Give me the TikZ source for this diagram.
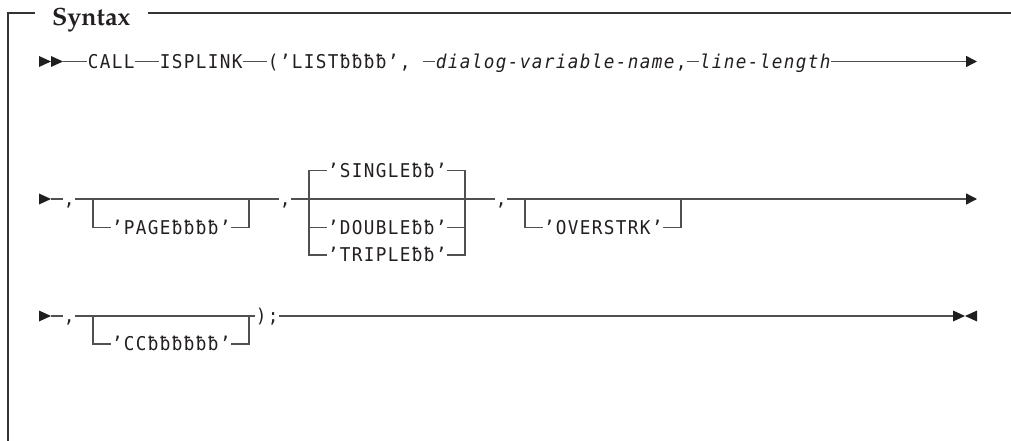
\documentclass[tikz,border=0pt]{standalone}
\usepackage{fontspec}
\usetikzlibrary{arrows.meta}
\newfontfamily\monof[FakeStretch=0.93]{DejaVu Sans Mono}
\newfontfamily\titlef{TeX Gyre Pagella}
\definecolor{ln}{HTML}{505050}
\definecolor{tx}{HTML}{231F20}
\makeatletter
\newcommand\cells[1]{\@tfor\cellch:=#1\do{\makebox[12pt][c]{\cellch}}}
\makeatother
\begin{document}
\begin{tikzpicture}[x=1pt,y=-1pt,
  tok/.style={inner sep=0pt, anchor=west, text height=13.8pt, text depth=0pt,
    font={\monof\fontsize{19pt}{19pt}\selectfont}, text=tx},
  itok/.style={tok, font={\monof\itshape\fontsize{19pt}{19pt}\selectfont}},
  rail/.style={draw=ln, line width=1.3pt},
  endarrow/.style={rail, -{Triangle[length=11pt,width=11pt,color=black!88]}},
  tri/.style={fill=black!88},
  frame/.style={draw=black!80, line width=1.3pt},
]
\useasboundingbox (0,0) rectangle (1011,441);
\def\ya{61.5}
\def\yb{199}
\def\ysg{170.5}
\def\ydb{227.5}
\def\ytr{255}
\def\yc{316}
\def\ycc{344}

% frame
\node[anchor=base west, inner sep=0pt, font={\titlef\bfseries\fontsize{25pt}{25pt}\selectfont}, text=tx] (title) at (52,26) {Syntax};
\draw[frame] (35,13) -- (8,13) -- (8,441);
\draw[frame] (148,13) -- (1011,13);

% ---------- row 1
\fill[tri] (39,{\ya-5.5}) -- (51,\ya) -- (39,{\ya+5.5}) -- cycle;
\fill[tri] (51,{\ya-5.5}) -- (63,\ya) -- (51,{\ya+5.5}) -- cycle;
\coordinate (s1) at (63,\ya);
\node[tok] (call) at (87,\ya) {\cells{CALL}};
\node[tok] (isp) at (159,\ya) {\cells{ISPLINK}};
\node[tok] (list) at (267,\ya) {\cells{(’LISTƀƀƀƀ’,}};
\coordinate (d1) at (423,\ya);
\node[itok] (dvn) at (435,\ya) {\cells{dialog-variable-name}};
\node[tok] (c1) at (675,\ya) {\cells{,}};
\node[itok] (ll) at (699,\ya) {\cells{line-length}};
\coordinate (e1) at (977,\ya);
\draw[rail] (s1) -- (call.west);
\draw[rail] (call.east) -- (isp.west);
\draw[rail] (isp.east) -- (list.west);
\draw[rail] (d1) -- (dvn.west);
\draw[rail] (c1.east) -- (ll.west);
\draw[endarrow] (ll.east) -- (e1);

% ---------- row 2
\fill[tri] (39,{\yb-5.5}) -- (51,\yb) -- (39,{\yb+5.5}) -- cycle;
\coordinate (s2) at (51,\yb);
\node[tok] (c2a) at (63,\yb) {\cells{,}};
\node[tok] (c2b) at (279,\yb) {\cells{,}};
\node[tok] (c2c) at (495,\yb) {\cells{,}};
\coordinate (p1) at (93,\yb);
\coordinate (p2) at (249,\yb);
\coordinate (q1) at (309,\yb);
\coordinate (q2) at (465,\yb);
\coordinate (r1) at (525,\yb);
\coordinate (r2) at (681,\yb);
\coordinate (e2) at (977,\yb);
\node[tok] (page) at (111,\ydb) {\cells{’PAGEƀƀƀƀ’}};
\node[tok] (sgl) at (327,\ysg) {\cells{’SINGLEƀƀ’}};
\node[tok] (dbl) at (327,\ydb) {\cells{’DOUBLEƀƀ’}};
\node[tok] (trp) at (327,\ytr) {\cells{’TRIPLEƀƀ’}};
\node[tok] (ovs) at (543,\ydb) {\cells{’OVERSTRK’}};
\draw[rail] (s2) -- (c2a.west);
\draw[rail] (c2a.east) -- (c2b.west);
\draw[rail] (p1) |- (page.west);
\draw[rail] (page.east) -| (p2);
\draw[rail] (c2b.east) -- (c2c.west);
\draw[rail] (sgl.west) -| (q1) |- (trp.west);
\draw[rail] (q1) |- (dbl.west);
\draw[rail] (sgl.east) -| (q2) |- (trp.east);
\draw[rail] (q2) |- (dbl.east);
\draw[rail] (r1) |- (ovs.west);
\draw[rail] (ovs.east) -| (r2);
\draw[endarrow] (c2c.east) -- (e2);

% ---------- row 3
\fill[tri] (39,{\yc-5.5}) -- (51,\yc) -- (39,{\yc+5.5}) -- cycle;
\coordinate (s3) at (51,\yc);
\node[tok] (c3a) at (63,\yc) {\cells{,}};
\coordinate (t1) at (93,\yc);
\coordinate (t2) at (249,\yc);
\node[tok] (cc) at (111,\ycc) {\cells{’CCƀƀƀƀƀƀ’}};
\node[tok] (par) at (255,\yc) {\cells{);}};
\coordinate (e3) at (953,\yc);
\draw[rail] (s3) -- (c3a.west);
\draw[rail] (c3a.east) -- (par.west);
\draw[rail] (t1) |- (cc.west);
\draw[rail] (cc.east) -| (t2);
\draw[rail] (par.east) -- (e3);
\fill[tri] (953,{\yc-5.5}) -- (965,\yc) -- (953,{\yc+5.5}) -- cycle;
\fill[tri] (977,{\yc-5.5}) -- (965,\yc) -- (977,{\yc+5.5}) -- cycle;
\end{tikzpicture}
\end{document}
